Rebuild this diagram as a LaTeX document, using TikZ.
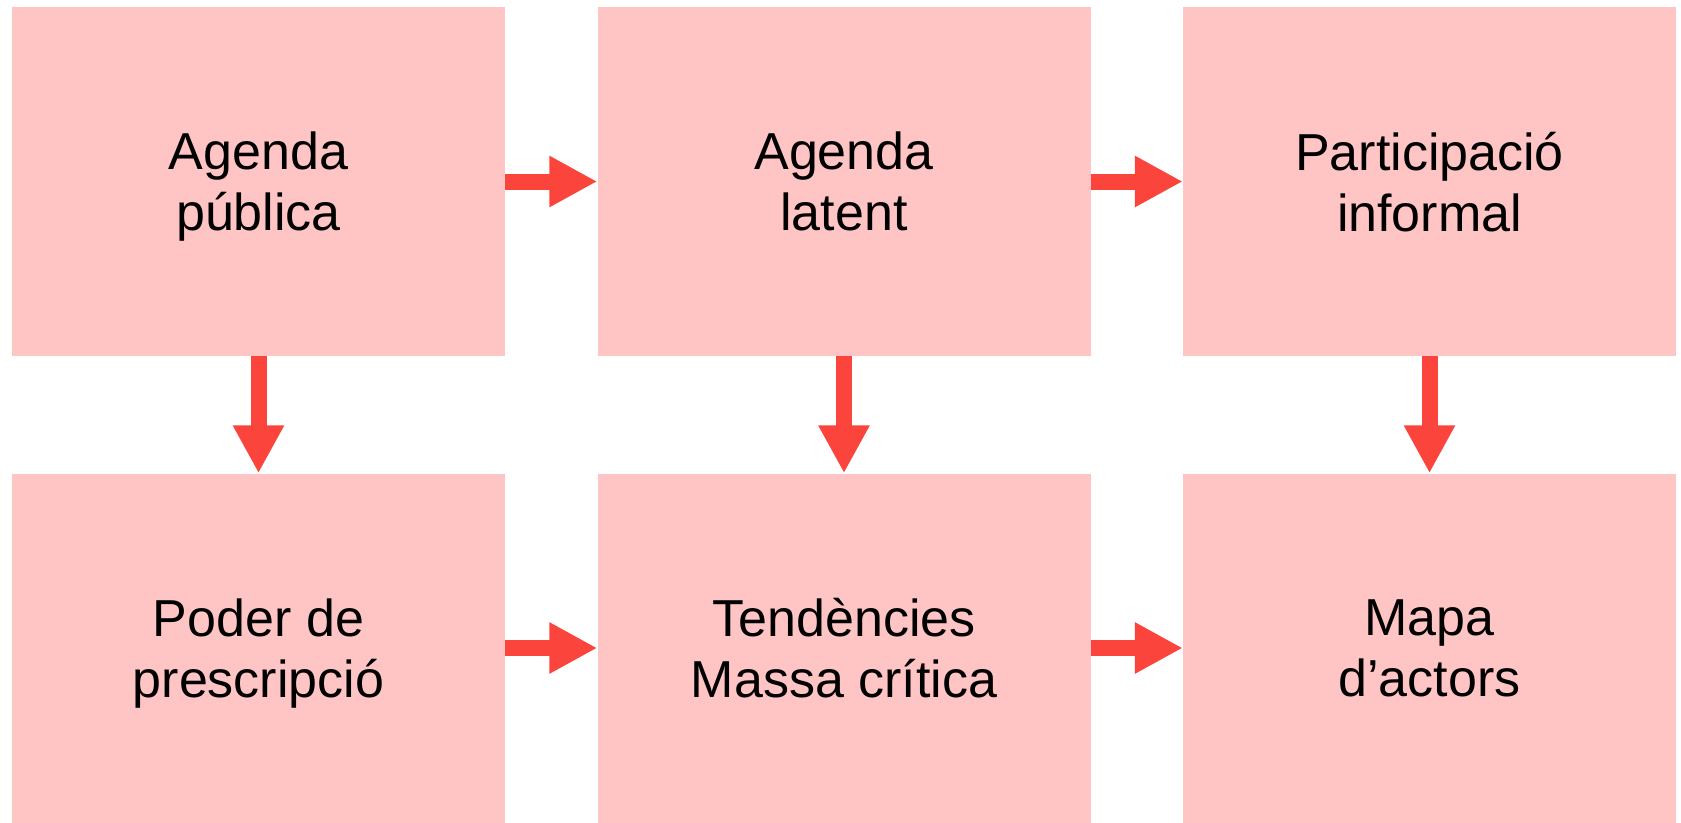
\documentclass[tikz,border=0pt]{standalone}
\usepackage{fontspec}
\setmainfont{Liberation Sans}
\usetikzlibrary{arrows.meta}
\definecolor{rosa}{RGB}{255,196,196}
\definecolor{vermell}{RGB}{250,68,60}
\tikzset{
  caixa/.style={rectangle,fill=rosa,minimum width=493pt,minimum height=349pt,inner sep=0pt,
    align=center,text depth=0pt,font=\fontsize{52}{61}\selectfont},
  fletxa/.style={draw=vermell,line width=16pt,-{Triangle[length=48pt,width=48pt]}}
}
\begin{document}
\begin{tikzpicture}[x=1pt,y=-1pt]
        \useasboundingbox(0,0)rectangle(1681,822);

        \node[caixa](publica)at(258.5,181.5){Agenda\\pública};
        \node[caixa](latent)at(844,181.5){Agenda\\latent};
        \node[caixa](informal)at(1429.5,181.5){Participació\\informal};
        \node[caixa](prescripcio)at(258.5,648){Poder de\\prescripció};
        \node[caixa](tendencies)at(844,648){Tendències\\Massa crítica};
        \node[caixa](actors)at(1429.5,648){Mapa\\d’actors};

        \draw[fletxa](publica.east)--(latent.west);
        \draw[fletxa](latent.east)--(informal.west);
        \draw[fletxa](prescripcio.east)--(tendencies.west);
        \draw[fletxa](tendencies.east)--(actors.west);
        \draw[fletxa](publica.south)--(prescripcio.north);
        \draw[fletxa](latent.south)--(tendencies.north);
        \draw[fletxa](informal.south)--(actors.north);
    \end{tikzpicture}
\end{document}
